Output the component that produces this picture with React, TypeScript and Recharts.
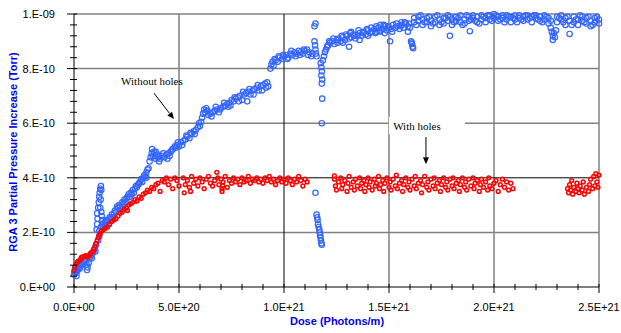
import { ScatterChart, Scatter, XAxis, YAxis, CartesianGrid, ReferenceLine, ReferenceDot } from 'recharts'

// x in units of 1e20 photons/m, y in units of 1e-10 Torr
const withoutHoles: [number, number][] = [
  [0.0, 0.45], [0.02, 0.55], [0.05, 0.7], [0.08, 0.5], [0.1, 0.62], [0.12, 0.4], [0.15, 0.58], [0.18, 0.72],
  [0.2, 0.66], [0.25, 0.78], [0.28, 0.68], [0.3, 0.85], [0.35, 0.8], [0.4, 0.92], [0.45, 0.88], [0.5, 1.0],
  [0.55, 0.95], [0.6, 0.82], [0.62, 0.62], [0.65, 0.72], [0.7, 0.88], [0.72, 1.05], [0.78, 1.1], [0.82, 1.18],
  [0.85, 1.05], [0.9, 1.25], [0.95, 1.35], [1.0, 1.42], [1.02, 1.3],
  [1.05, 1.55], [1.08, 2.1], [1.1, 2.3], [1.12, 2.5], [1.1, 2.7], [1.15, 2.9], [1.18, 3.1], [1.2, 3.3],
  [1.22, 3.45], [1.25, 3.6], [1.28, 3.7], [1.3, 3.55], [1.27, 3.2], [1.25, 2.9], [1.3, 2.75], [1.32, 2.6],
  [1.35, 2.45], [1.38, 2.3], [1.2, 2.05], [1.28, 2.2], [1.15, 1.7], [1.2, 1.85],
  [1.4, 2.2], [1.45, 2.35], [1.5, 2.25], [1.55, 2.45], [1.6, 2.4], [1.7, 2.55], [1.75, 2.5], [1.8, 2.65],
  [1.9, 2.7], [1.95, 2.8], [2.0, 2.75], [2.1, 2.9], [2.15, 3.0], [2.2, 2.95], [2.3, 3.1], [2.35, 3.05],
  [2.4, 3.2], [2.5, 3.25], [2.55, 3.3], [2.6, 3.4], [2.7, 3.45], [2.75, 3.4], [2.8, 3.55], [2.9, 3.6],
  [2.95, 3.7], [3.0, 3.65], [3.1, 3.8], [3.15, 3.85], [3.2, 3.95], [3.3, 4.0], [3.35, 4.1], [3.4, 4.05],
  [3.45, 4.2], [3.5, 4.3], [3.55, 4.35],
  [1.5, 2.4], [1.65, 2.3], [1.85, 2.55], [2.05, 2.95], [2.25, 2.85], [2.45, 3.1], [2.65, 3.3], [2.85, 3.45],
  [3.05, 3.75], [3.25, 3.85], [3.45, 4.0],
  [3.6, 4.6], [3.65, 4.75], [3.7, 4.9], [3.72, 5.05], [3.8, 4.95], [3.85, 4.8], [3.9, 4.7], [3.95, 4.85],
  [4.0, 4.75], [4.1, 4.7], [4.2, 4.8], [4.3, 4.75], [4.4, 4.85], [4.5, 4.9], [4.55, 4.8], [4.6, 4.95],
  [4.7, 5.05], [4.8, 5.15], [4.85, 5.1], [4.9, 5.2], [5.0, 5.15], [5.1, 5.3], [5.2, 5.35], [5.3, 5.4],
  [5.4, 5.5], [5.5, 5.45], [5.6, 5.6], [5.7, 5.7], [5.8, 5.75], [5.9, 5.85], [6.0, 5.9], [6.05, 6.05],
  [6.1, 6.2], [6.15, 6.35], [6.2, 6.5], [6.25, 6.4], [6.3, 6.55], [6.4, 6.3], [6.5, 6.35], [6.6, 6.4],
  [6.7, 6.45], [6.8, 6.5], [6.9, 6.4], [7.0, 6.55], [7.1, 6.6], [7.2, 6.65], [7.3, 6.7], [7.35, 6.6],
  [7.4, 6.75], [7.5, 6.85], [7.6, 6.8], [7.7, 6.9], [7.8, 6.95], [7.9, 7.0], [8.0, 6.85], [8.1, 7.05],
  [8.2, 7.1], [8.25, 6.8], [8.3, 7.15], [8.4, 7.05], [8.5, 7.2], [8.6, 7.25], [8.7, 7.3], [8.8, 7.2],
  [8.9, 7.35], [9.0, 7.4], [9.1, 7.45], [9.2, 7.5], [9.25, 7.35],
  [3.75, 4.8], [3.9, 4.95], [4.05, 4.6], [4.25, 4.9], [4.45, 4.7], [4.65, 5.0], [4.95, 5.3], [5.15, 5.2],
  [5.35, 5.55], [5.55, 5.65], [5.75, 5.6], [5.95, 6.0], [6.35, 6.45], [6.55, 6.25], [6.75, 6.6], [6.95, 6.5],
  [7.15, 6.75], [7.45, 6.65], [7.65, 6.95], [7.85, 6.8], [8.05, 7.15], [8.35, 7.25], [8.55, 7.05], [8.75, 7.4],
  [8.95, 7.2], [9.15, 7.3],
  [9.35, 8.0], [9.4, 8.15], [9.45, 8.25], [9.5, 8.1], [9.6, 8.3], [9.7, 8.25], [9.8, 8.4], [9.9, 8.35],
  [10.0, 8.45], [10.1, 8.5], [10.2, 8.4], [10.3, 8.55], [10.4, 8.5], [10.5, 8.6], [10.6, 8.55], [10.7, 8.65],
  [10.8, 8.6], [10.9, 8.55], [11.0, 8.65], [11.1, 8.7], [11.2, 8.6], [11.3, 8.45], [11.35, 8.55],
  [9.55, 8.35], [9.75, 8.45], [9.95, 8.5], [10.15, 8.35], [10.35, 8.65], [10.55, 8.45], [10.75, 8.5], [10.95, 8.7],
  [11.15, 8.5],
  [11.45, 9.55], [11.5, 9.65], [11.45, 9.0], [11.48, 8.85], [11.5, 8.7], [11.52, 8.55], [11.55, 8.45],
  [11.75, 8.2], [11.78, 8.05], [11.8, 7.9], [11.78, 7.75], [11.82, 7.6], [11.8, 7.45], [11.82, 6.9], [11.8, 6.0],
  [11.5, 3.45], [11.55, 2.65], [11.58, 2.55], [11.6, 2.45], [11.62, 2.3], [11.65, 2.2], [11.68, 2.1], [11.7, 2.0],
  [11.72, 1.9], [11.74, 1.8], [11.76, 1.7], [11.78, 1.6], [11.8, 1.55],
  [11.85, 8.3], [11.9, 8.45], [11.95, 8.6], [12.0, 8.7], [12.05, 8.8], [12.1, 8.85], [12.2, 8.95], [12.3, 9.0],
  [12.4, 8.9], [12.5, 9.05], [12.6, 9.1], [12.7, 9.0], [12.8, 9.15], [12.9, 9.05], [13.0, 9.2], [13.1, 9.1],
  [13.2, 9.15], [13.3, 9.25], [13.4, 9.1], [13.5, 9.2], [13.6, 9.3], [13.7, 9.2], [13.8, 9.35], [13.9, 9.25],
  [14.0, 9.4], [14.1, 9.3], [14.2, 9.35], [14.3, 9.45], [14.4, 9.35], [14.5, 9.5], [14.6, 9.4], [14.7, 9.45],
  [14.8, 9.55], [14.9, 9.4], [15.0, 9.5], [15.1, 9.45], [15.2, 9.6], [15.3, 9.5], [15.4, 9.55], [15.5, 9.45],
  [15.6, 9.6], [15.7, 9.5], [15.8, 9.65], [15.9, 9.55], [16.0, 9.5],
  [13.2, 9.35], [13.6, 9.05], [14.0, 9.2], [14.4, 9.55], [14.8, 9.3], [15.05, 9.0], [12.8, 8.95], [13.1, 8.8],
  [15.9, 9.35], [15.6, 9.7], [14.6, 9.6],
  [12.15, 9.0], [12.35, 9.1], [12.55, 8.95], [12.75, 9.2], [12.95, 9.25], [13.15, 9.3], [13.35, 9.2], [13.55, 9.4],
  [13.75, 9.3], [13.95, 9.45], [14.15, 9.5], [14.35, 9.3], [14.55, 9.35], [14.75, 9.6], [14.95, 9.55], [15.15, 9.35],
  [15.35, 9.65], [15.55, 9.55], [15.75, 9.7], [15.95, 9.65],
  [16.05, 9.0], [16.1, 8.9], [16.12, 8.8], [16.15, 8.75], [16.08, 8.95],
  [16.2, 9.85], [16.2, 9.7], [16.4, 9.75], [16.4, 9.9], [16.6, 9.6], [16.6, 9.8], [16.8, 9.85], [16.8, 9.7],
  [17.0, 9.75], [17.0, 9.55], [17.2, 9.9], [17.2, 9.7], [17.4, 9.8], [17.4, 9.6], [17.6, 9.85], [17.6, 9.65],
  [17.8, 9.75], [17.8, 9.95], [17.9, 9.2], [18.0, 9.8], [18.0, 9.6], [18.2, 9.9], [18.2, 9.75], [18.4, 9.95],
  [18.4, 9.7], [18.6, 9.8], [18.6, 9.65], [18.8, 9.9], [18.85, 9.37], [18.8, 9.75], [19.0, 9.85], [19.0, 9.95],
  [19.2, 9.7], [19.2, 9.9], [19.4, 9.95], [19.4, 9.8], [19.6, 9.85], [19.6, 9.7], [19.8, 9.95], [19.8, 9.8],
  [20.0, 10.0], [20.0, 9.85], [20.2, 9.9], [20.2, 9.75], [20.4, 9.95], [20.4, 9.85], [20.6, 9.8], [20.6, 9.95],
  [20.8, 9.9], [20.8, 9.7], [21.0, 9.95], [21.0, 9.8], [21.2, 9.85], [21.2, 9.95], [21.4, 9.75], [21.4, 9.9],
  [21.6, 9.95], [21.6, 9.8], [21.8, 9.9], [21.8, 9.7], [22.0, 9.85], [22.0, 9.95], [22.2, 9.75], [22.2, 9.9],
  [22.4, 9.95], [22.4, 9.8], [22.6, 9.85], [22.6, 9.65],
  [22.7, 9.5], [22.75, 9.35], [22.8, 9.2], [22.85, 9.3], [22.8, 9.05], [22.9, 9.15], [22.95, 9.4], [22.7, 9.75],
  [23.0, 9.9], [23.0, 9.7], [23.2, 9.8], [23.2, 9.95], [23.4, 9.6], [23.4, 9.85], [23.6, 9.27], [23.6, 9.75],
  [23.8, 9.9], [23.8, 9.7], [24.0, 9.8], [24.0, 9.6], [24.2, 9.9], [24.2, 9.75], [24.4, 9.65], [24.4, 9.85],
  [24.6, 9.75], [24.6, 9.55], [24.8, 9.7], [24.8, 9.85], [25.0, 9.8], [25.0, 9.65],
  [16.3, 9.6], [16.5, 9.95], [16.7, 9.7], [16.9, 9.9], [17.1, 9.65], [17.3, 9.95], [17.5, 9.7], [17.7, 9.85],
  [17.9, 9.9], [18.1, 9.7], [18.3, 9.85], [18.5, 9.6], [18.7, 9.95], [18.9, 9.8], [19.1, 9.75], [19.3, 9.65],
  [19.5, 9.9], [19.7, 9.95], [19.9, 9.75], [20.1, 9.95], [20.3, 9.8], [20.5, 9.7], [20.7, 9.9], [20.9, 9.85],
  [21.1, 9.7], [21.3, 9.8], [21.5, 9.95], [21.7, 9.85], [21.9, 9.95], [22.1, 9.8], [22.3, 9.7], [22.5, 9.9],
  [23.1, 9.85], [23.3, 9.7], [23.5, 9.9], [23.7, 9.6], [23.9, 9.8], [24.1, 9.95], [24.3, 9.7], [24.5, 9.9],
  [24.7, 9.6], [24.9, 9.9],
]

const withHoles: [number, number][] = [
  [0.0, 0.6], [0.05, 0.75], [0.1, 0.85], [0.15, 0.9], [0.2, 0.95], [0.3, 1.0], [0.35, 1.08], [0.4, 1.1],
  [0.5, 1.12], [0.55, 1.15], [0.6, 1.1], [0.7, 1.12], [0.75, 1.2], [0.8, 1.25], [0.9, 1.3], [0.95, 1.4],
  [1.0, 1.5], [1.05, 1.6], [1.1, 1.7], [1.15, 1.8], [1.2, 1.9], [1.25, 1.95], [1.3, 2.05], [1.4, 2.1],
  [1.5, 2.15], [1.6, 2.2], [1.7, 2.3], [1.8, 2.4], [1.9, 2.45], [2.0, 2.5], [2.1, 2.6], [2.2, 2.7],
  [2.3, 2.75], [2.4, 2.85], [2.5, 2.9], [2.55, 2.8], [2.6, 3.0], [2.7, 3.05], [2.8, 3.1], [2.9, 3.2],
  [3.0, 3.15], [3.1, 3.3], [3.2, 3.25], [3.3, 3.4], [3.4, 3.45], [3.5, 3.55], [3.6, 3.5], [3.7, 3.65],
  [3.8, 3.6], [3.9, 3.75], [4.0, 3.8], [4.1, 3.5], [4.2, 3.9], [4.3, 3.85], [4.4, 4.0], [4.5, 3.75],
  [4.6, 3.95], [4.7, 3.6], [4.8, 4.0], [4.9, 3.9], [5.0, 3.7],
  [5.2, 4.0], [5.25, 3.45], [5.3, 3.75], [5.4, 3.9], [5.5, 3.65], [5.55, 3.5], [5.6, 4.05], [5.7, 3.8],
  [5.8, 3.95], [5.9, 3.7], [6.0, 4.0], [6.1, 3.85], [6.2, 3.6], [6.3, 3.95], [6.4, 4.05], [6.5, 3.8],
  [6.6, 3.7], [6.7, 3.9], [6.8, 4.2], [6.85, 4.0], [6.9, 3.75], [7.0, 3.95], [7.05, 3.5], [7.05, 3.6],
  [7.08, 3.7], [7.1, 3.85], [7.2, 4.05], [7.3, 3.65], [7.4, 3.9], [7.5, 3.8], [7.6, 4.0], [7.7, 3.85],
  [7.8, 3.95], [7.9, 3.75], [8.0, 4.0], [8.1, 3.85], [8.2, 3.9], [8.3, 4.05], [8.4, 3.8], [8.5, 3.95],
  [8.6, 3.9], [8.7, 4.0], [8.8, 3.85], [8.9, 3.95], [9.0, 3.8], [9.1, 4.0], [9.2, 3.9], [9.3, 4.05],
  [9.4, 3.85], [9.5, 3.95], [9.6, 3.75], [9.7, 3.9], [9.8, 4.0], [9.9, 3.85], [10.0, 3.95], [10.1, 3.8],
  [10.2, 4.0], [10.3, 3.9], [10.4, 3.75], [10.5, 3.95], [10.6, 3.85], [10.7, 4.05], [10.8, 3.9], [10.9, 3.7],
  [11.0, 3.95], [11.1, 3.85],
  [12.4, 4.07], [12.4, 3.95], [12.45, 3.7], [12.5, 3.55], [12.6, 3.85], [12.7, 4.0], [12.75, 3.6], [12.8, 3.75],
  [12.9, 3.9], [13.0, 3.5], [13.05, 3.8], [13.1, 4.05], [13.2, 3.65], [13.3, 3.85], [13.35, 3.55], [13.4, 3.95],
  [13.5, 3.7], [13.6, 4.0], [13.65, 3.6], [13.7, 3.8], [13.8, 3.9], [13.85, 3.5], [13.9, 3.75], [14.0, 4.0],
  [14.05, 3.65], [14.1, 3.85], [14.2, 3.55], [14.3, 3.95], [14.35, 3.7], [14.4, 3.8], [14.5, 4.05], [14.55, 3.6],
  [14.6, 3.75], [14.7, 3.9], [14.75, 3.5], [14.8, 3.8], [14.9, 4.0], [15.0, 3.65], [15.05, 3.85], [15.1, 3.55],
  [15.2, 3.95], [15.3, 3.7], [15.35, 4.1], [15.4, 3.6], [15.5, 3.8], [15.6, 3.9], [15.65, 3.5], [15.7, 3.75],
  [15.8, 4.0], [15.9, 3.65], [15.95, 3.85], [16.0, 3.55], [16.1, 3.95], [16.2, 3.7], [16.25, 4.05], [16.3, 3.6],
  [16.4, 3.8], [16.5, 3.9], [16.55, 3.45], [16.6, 3.75], [16.7, 4.05], [16.8, 3.65], [16.85, 3.85], [16.9, 3.55],
  [17.0, 3.95], [17.1, 3.7], [17.15, 4.0], [17.2, 3.6], [17.3, 3.8], [17.4, 3.9], [17.45, 3.5], [17.5, 3.75],
  [17.6, 4.0], [17.7, 3.65], [17.75, 3.85], [17.8, 3.55], [17.9, 3.95], [18.0, 3.7], [18.05, 4.0], [18.1, 3.6],
  [18.2, 3.8], [18.3, 3.9], [18.35, 3.5], [18.4, 3.75], [18.5, 4.0], [18.6, 3.65], [18.65, 3.85], [18.7, 3.55],
  [18.8, 3.95], [18.9, 3.7], [19.0, 4.0], [19.05, 3.6], [19.1, 3.8], [19.2, 3.9], [19.3, 3.5], [19.35, 3.75],
  [19.4, 3.95], [19.5, 3.65], [19.6, 3.85], [19.7, 3.55], [19.75, 4.0], [19.8, 3.7], [19.9, 3.6], [20.0, 3.8],
  [20.1, 3.9], [20.2, 3.5], [20.3, 3.75], [20.4, 3.95], [20.5, 3.65], [20.6, 3.85], [20.7, 3.55], [20.8, 3.8],
  [20.9, 3.6],
  [23.5, 3.6], [23.55, 3.45], [23.6, 3.75], [23.65, 3.55], [23.7, 3.9], [23.75, 3.4], [23.8, 3.65], [23.9, 3.5],
  [23.95, 3.8], [24.0, 3.6], [24.05, 3.45], [24.1, 3.7], [24.2, 3.55], [24.25, 3.85], [24.3, 3.4], [24.4, 3.65],
  [24.5, 3.5], [24.55, 3.75], [24.6, 3.95], [24.7, 3.6], [24.75, 4.05], [24.8, 3.7], [24.85, 4.15], [24.9, 3.85],
  [24.95, 3.65], [25.0, 4.1],
]

const xMajor = [0, 5, 10, 15, 20, 25]
const xMajorLabels = ['0.0E+00', '5.0E+20', '1.0E+21', '1.5E+21', '2.0E+21', '2.5E+21']
const xTicks = [0, 1, 2, 3, 4, 5, 6, 7, 8, 9, 10, 11, 12, 13, 14, 15, 16, 17, 18, 19, 20, 21, 22, 23, 24, 25]
const yMajor = [0, 2, 4, 6, 8, 10]
const yMajorLabels = ['0.E+00', '2.E-10', '4.E-10', '6.E-10', '8.E-10', '1.E-09']
const yTicks = [0, 0.4, 0.8, 1.2, 1.6, 2, 2.4, 2.8, 3.2, 3.6, 4, 4.4, 4.8, 5.2, 5.6, 6, 6.4, 6.8, 7.2, 7.6, 8, 8.4, 8.8, 9.2, 9.6, 10]

const SANS = '"Liberation Sans", Arial, sans-serif'
const SERIF = '"Liberation Serif", "Times New Roman", serif'
const BLUE = '#3366ff'
const RED = '#ff0000'

const majorIndex = (list: number[], v: number) => list.findIndex((m) => Math.abs(m - v) < 1e-6)

function XTick(props: any) {
  const { x, y, payload } = props
  const i = majorIndex(xMajor, payload.value)
  return (
    <g>
      <line x1={x} x2={x} y1={y - 3} y2={y + (i >= 0 ? 6 : 3)} stroke="#000" strokeWidth={1} />
      {i >= 0 && (
        <text x={x} y={y + 24} textAnchor="middle" fontSize={11} fontFamily={SANS} fill="#000">
          {xMajorLabels[i]}
        </text>
      )}
    </g>
  )
}

function YTick(props: any) {
  const { x, y, payload } = props
  const i = majorIndex(yMajor, payload.value)
  return (
    <g>
      <line x1={x - (i >= 0 ? 7 : 4)} x2={x + 3} y1={y} y2={y} stroke="#000" strokeWidth={1} />
      {i >= 0 && (
        <text x={x - 19} y={y + 4} textAnchor="end" fontSize={11} fontFamily={SANS} fill="#000">
          {yMajorLabels[i]}
        </text>
      )}
    </g>
  )
}

function Arrow(props: any) {
  const { x1, y1, x2, y2 } = props
  const ang = Math.atan2(y2 - y1, x2 - x1)
  const bx = x2 - 7 * Math.cos(ang)
  const by = y2 - 7 * Math.sin(ang)
  const px = -Math.sin(ang) * 3
  const py = Math.cos(ang) * 3
  return (
    <g>
      <line x1={x1} y1={y1} x2={bx} y2={by} stroke="#000" strokeWidth={1} />
      <polygon points={`${x2},${y2} ${bx + px},${by + py} ${bx - px},${by - py}`} fill="#000" />
    </g>
  )
}

const BlueDot = (p: any) => <circle cx={p.cx} cy={p.cy} r={2.7} fill="none" stroke={BLUE} strokeWidth={1.2} />
const RedDot = (p: any) => <circle cx={p.cx} cy={p.cy} r={1.9} fill="none" stroke={RED} strokeWidth={1.5} />

export default function App() {
  const blue = withoutHoles.map(([x, y]) => ({ x, y }))
  const red = withHoles.map(([x, y]) => ({ x, y }))
  return (
    <div style={{ position: 'absolute', left: 0, top: 0, width: 621, height: 333, background: '#fff' }}>
      <ScatterChart width={621} height={333} margin={{ top: 14, right: 22, bottom: 0, left: 0 }}>
        <CartesianGrid horizontalValues={[2, 6, 8, 10]} verticalValues={[5, 15, 20, 25]} stroke="#808080" strokeWidth={1.5} />
        <XAxis
          type="number"
          dataKey="x"
          domain={[0, 25]}
          ticks={xTicks}
          interval={0}
          height={46}
          tickSize={0}
          tickMargin={0}
          tickLine={false}
          axisLine={{ stroke: '#000' }}
          tick={<XTick />}
        />
        <YAxis
          type="number"
          dataKey="y"
          domain={[0, 10]}
          ticks={yTicks}
          interval={0}
          width={74}
          tickSize={0}
          tickMargin={0}
          tickLine={false}
          axisLine={{ stroke: '#000' }}
          tick={<YTick />}
        />
        <ReferenceLine y={4} stroke="#000" strokeWidth={1} />
        <ReferenceLine x={10} stroke="#000" strokeWidth={1} />
        <Scatter data={blue} shape={BlueDot} isAnimationActive={false} />
        <Scatter data={red} shape={RedDot} isAnimationActive={false} />
        <ReferenceLine segment={[{ x: 3.81, y: 7.1 }, { x: 4.76, y: 6.15 }]} shape={<Arrow />} />
        <ReferenceLine segment={[{ x: 16.76, y: 5.49 }, { x: 16.76, y: 4.5 }]} shape={<Arrow />} />
        <ReferenceDot
          x={3.71}
          y={7.55}
          r={1}
          shape={(p: any) => (
            <text x={p.cx} y={p.cy + 4} textAnchor="middle" fontSize={11} fontFamily={SERIF} fill="#000">
              Without holes
            </text>
          )}
        />
        <ReferenceDot
          x={16.33}
          y={5.9}
          r={1}
          shape={(p: any) => (
            <g>
              <rect x={p.cx - 28} y={p.cy - 9} width={76} height={17} fill="#fff" />
              <text x={p.cx} y={p.cy + 4} textAnchor="middle" fontSize={11} fontFamily={SERIF} fill="#000">
                With holes
              </text>
            </g>
          )}
        />
      </ScatterChart>
      <svg width={621} height={333} style={{ position: 'absolute', left: 0, top: 0, pointerEvents: 'none' }}>
        <text x={337} y={325} textAnchor="middle" fontSize={11} fontWeight="bold" fontFamily={SANS} fill="#0000ee">
          Dose (Photons/m)
        </text>
        <text
          x={0}
          y={0}
          transform="translate(17,152) rotate(-90)"
          textAnchor="middle"
          fontSize={11}
          fontWeight="bold"
          fontFamily={SANS}
          fill="#0000ee"
        >
          RGA 3 Partial Pressure Increase (Torr)
        </text>
      </svg>
    </div>
  )
}
